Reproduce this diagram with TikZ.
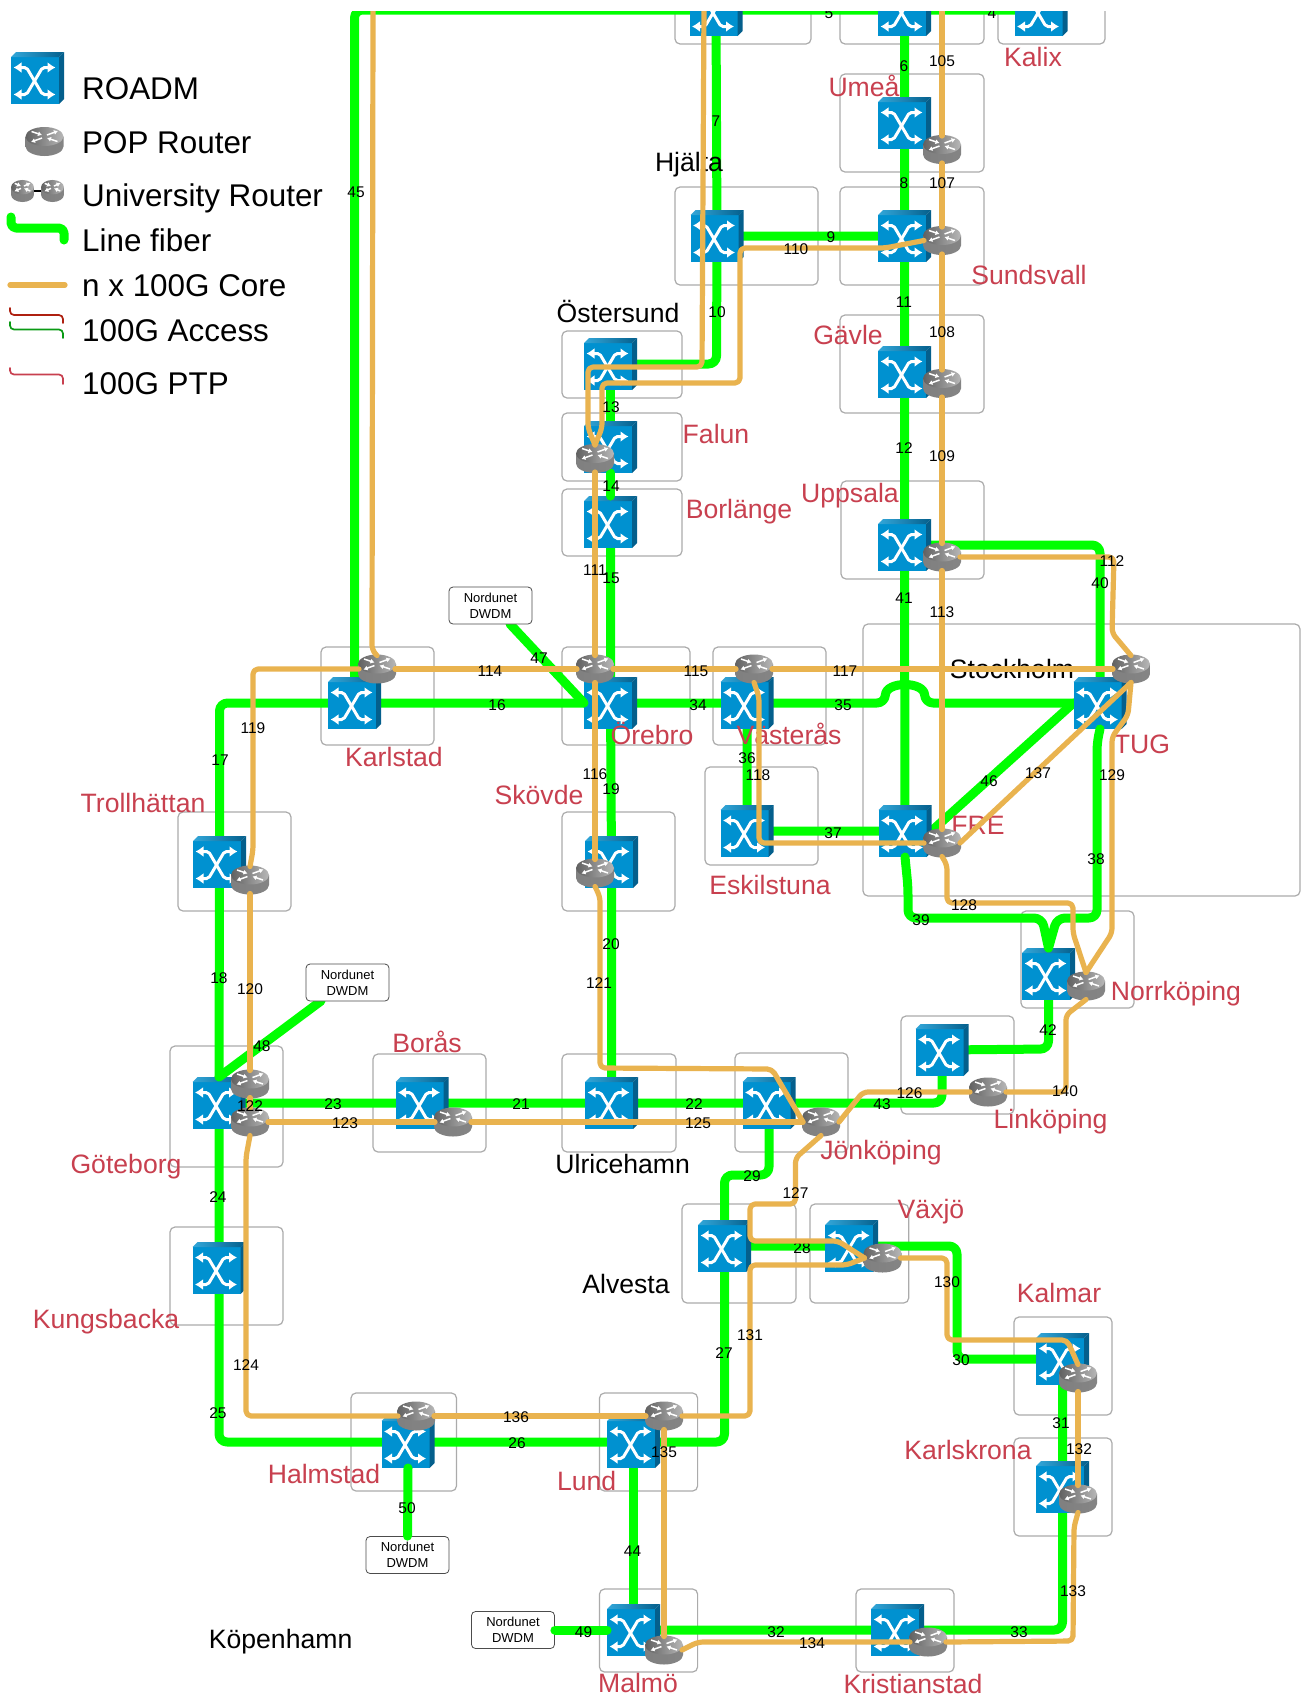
\documentclass[tikz,border=0pt]{standalone}
\usepackage{fontspec}
\setmainfont{Liberation Sans}
\usetikzlibrary{arrows.meta}
\definecolor{cgreen}{HTML}{00FF00}
\definecolor{ccore}{HTML}{E9B34F}
\definecolor{cred}{HTML}{C8404F}
\definecolor{cboxl}{HTML}{ABABAB}
\definecolor{cfront}{HTML}{0091D0}
\definecolor{cside}{HTML}{045F8C}
\definecolor{cacr}{HTML}{AE2010}
\definecolor{cacg}{HTML}{0A9A14}
\tikzset{
  fiber/.style={draw=cgreen,line width=9pt,rounded corners=8pt,line cap=round,line join=round},
  core/.style={draw=ccore,line width=5.2pt,rounded corners=5pt,line cap=round,line join=round},
  cbox/.style={draw=cboxl,line width=1.2pt,rounded corners=5pt},
  roadmbox/.style={minimum width=53pt,minimum height=52pt,inner sep=0pt,outer sep=0pt},
  routerbox/.style={minimum width=36pt,minimum height=27pt,inner sep=0pt,outer sep=0pt},
  ndbox/.style={draw=black!70,fill=white,line width=0.8pt,rounded corners=4pt,minimum width=83pt,minimum height=37pt,inner sep=0pt,align=center,font=\fontsize{13}{16}\selectfont},
  numl/.style={inner sep=0pt,yshift=-0.4pt,font=\fontsize{15.5}{15.5}\selectfont},
  citynode/.style={inner sep=0pt,anchor=base,yshift=-0.5pt,font=\fontsize{26.6}{29}\selectfont},
  redcity/.style={citynode,text=cred},
  legendl/.style={inner sep=0pt,anchor=base west,font=\fontsize{31.4}{33}\selectfont},
  thinl/.style={line width=1.7pt,rounded corners=4pt,line cap=round},
  roadmart/.pic={
    \fill[cfront] (-26.5,-21) rectangle (21.5,26);
    \shade[left color=cfront!80!white,right color=cside] (-26.5,-21) -- (-21.5,-26) -- (26.5,-26) -- (21.5,-21) -- cycle;
    \fill[cside] (21.5,-21) -- (26.5,-26) -- (26.5,21) -- (21.5,26) -- cycle;
    \draw[white,line width=3pt,rounded corners=2pt,{Latex[length=8pt,width=11pt]}-{Latex[length=8pt,width=11pt]}] (-24,-10.5) -- (-11,-10.5) -- (5,16.5) -- (18,16.5);
    \draw[white,line width=3pt,rounded corners=2pt,{Latex[length=8pt,width=11pt]}-{Latex[length=8pt,width=11pt]}] (-24,16.5) -- (-11,16.5) -- (5,-10.5) -- (18,-10.5);
  },
  routerart/.pic={
    \shade[left color=black!50,middle color=black!18,right color=black!48] (-19,-5) -- (-19,5) .. controls (-19,10.2) and (-10.5,14.5) .. (0,14.5) .. controls (10.5,14.5) and (19,10.2) .. (19,5) -- (19,-5) -- cycle;
    \shade[left color=black!62,right color=black!28] (-19,-5) .. controls (-19,-10.2) and (-10.5,-14.5) .. (0,-14.5) .. controls (10.5,-14.5) and (19,-10.2) .. (19,-5) .. controls (19,0.2) and (10.5,4.5) .. (0,4.5) .. controls (-10.5,4.5) and (-19,0.2) .. (-19,-5) -- cycle;
    \begin{scope}[white,line width=1.5pt,-{Latex[length=4pt,width=5pt]}]
      \draw (-13,-10) -- (-2.5,-6.5);
      \draw (13,0) -- (2.5,-3.5);
      \draw (2.5,-6.5) -- (13.5,-10.5);
      \draw (-2.5,-3.5) -- (-13.5,0.5);
    \end{scope}
  },
}
\begin{document}
\begin{tikzpicture}[x=1pt,y=-1pt]
\useasboundingbox[fill=white] (0,0) rectangle (1302,1701);
\begin{scope}
\clip (0,11) rectangle (1302,1701);

% site boxes
\foreach \a/\b/\c/\d in {675/-5/811/44,840/-5/984/44,998/-5/1105/44,840/74/984/172,675/187/818/285,840/187/984/285,840/315/984/413,841/481/984/579,562/331/682/398,562/413/682/481,562/489/682/556,562/647/690/745,713/647/826/745,705/767/818/865,863/624/1300/896,1021/911/1134/1008,321/647/434/745,178/812/291/911,562/812/675/911,170/1046/283/1167,373/1054/486/1152,562/1054/676/1152,735/1053/848/1152,901/1016/1014/1114,682/1204/796/1303,810/1204/908.7/1303,1014/1317/1112/1415,1014/1438/1112/1536,170/1227/283/1325,351/1393/456.5/1491,599.5/1393/697.6/1491,599.5/1589/697.6/1672,856/1589/954/1672}
  {\draw[cbox] (\a,\b) rectangle (\c,\d);}

% node frames
\foreach \n/\x/\y in {rTo1/716/10,rTo2/904.5/10,rKlx/1041/10,rUme/904.5/123,rHja/717/236,rSun/904.5/236,rGav/904.5/372,rUpp/904.5/545,rOst/610.5/364,rFal/610.5/447,rBrl/610.5/522,rOre/610.5/703,rVas/747/703,rEsk/747/831,rFRE/905/831,rTUG/1100/703,rNor/1048.5/974,rKar/354.5/703,rTro/219.5/862,rSko/611.5/862,rGot/219/1103,rBor/422/1103,rUlr/611.5/1103,rJon/769/1103,rLin/942/1050,rAlv/724.5/1246,rVax/851.7/1246,rKal/1062.5/1359,rKsk/1062.5/1487,rKun/219/1268,rHal/408/1442,rLun/633.5/1442,rMal/633.5/1630,rKri/897.5/1630,lgR/37.5/78}
  {\node[roadmbox] (\n) at (\x,\y) {};}
\foreach \n/\x/\y in {pUme/942/149.5,pSun/942/240.5,pGav/942/383.5,pUpp/942/557,pFal/595/458.5,pKar/377/669,pOre/595/669,pVas/754/669,pTUG/1131/669,pFRE/942/843,pTro/250/880,pSko/595/873,pNor/1086/986,pGo1/250/1084,pGo2/250/1122,pBor/453/1122,pJon/821/1122,pLin/988/1092,pVax/882.5/1258,pKal/1078/1378,pKsk/1078/1499,pHal/416/1416,pLun/664/1416,pMal/664/1650,pKri/928/1642,lgP/44.5/141.5}
  {\node[routerbox] (\n) at (\x,\y) {};}
\coordinate (nd1out) at (510,624);
\coordinate (nd2out) at (321,1001);
\coordinate (topA) at (373,5);
\coordinate (topB) at (704,5);
\coordinate (topC) at (942,5);

% line fiber under the ROADMs
\draw[fiber] (rKar.center) -- (354.5,10) -- (rTo1.center) -- (rTo2.center) -- (rKlx.center);
\draw[fiber] (rTo2.center) -- (rUme.center) -- (rSun.center) -- (rGav.center) -- (rUpp.center) -- (rFRE.center);
\draw[fiber] (rTo1.center) -- (rHja.center) -- (rSun.center);
\draw[fiber] (rHja.center) -- (716.5,364) -- (rOst.center);
\draw[fiber] (rOst.center) -- (rFal.center);
\draw[fiber] (rBrl.center) -- (rOre.center) -- (rSko.center) -- (rUlr.center);
\draw[fiber] (rTro.center) -- (219.5,703) -- (rOre.center);
\draw[fiber] (rTro.center) -- (rGot.center) -- (rKun.center) -- (219,1442) -- (rLun.center) -- (724.5,1442) -- (rAlv.center);
\draw[fiber] (rGot.center) -- (rUlr.center) -- (rJon.center) -- (942,1103) -- (rLin.center);
\draw[fiber] (rLin.center) -- (1048.5,1049) -- (rNor.center);
\draw[fiber] (rAlv.center) -- (724.5,1175) -- (769,1175) -- (rJon.center);
\draw[fiber] (rAlv.center) -- (rVax.center) -- (957,1246) -- (957,1359) -- (rKal.center) -- (rKsk.center) -- (1062.5,1630) -- (rMal.center);
\draw[fiber] (rLun.center) -- (rMal.center);
\draw[fiber] (rOre.center) -- (rVas.center) -- (885,703) .. controls (886,681) and (924,681) .. (925,703) -- (rTUG.center);
\draw[fiber] (rVas.center) -- (rEsk.center) -- (rFRE.center);
\draw[fiber] (rFRE.east) -- (rTUG.west);
\draw[fiber] (rUpp.center) -- (1100,545) -- (rTUG.center);

% ROADM icons
\foreach \n in {rTo1,rTo2,rKlx,rUme,rHja,rSun,rGav,rUpp,rOst,rFal,rBrl,rOre,rVas,rEsk,rFRE,rTUG,rNor,rKar,rTro,rSko,rGot,rBor,rUlr,rJon,rLin,rAlv,rVax,rKal,rKsk,rKun,rHal,rLun,rMal,rKri,lgR}
  {\pic at (\n) {roadmart};}

% line fiber over the ROADMs
\draw[fiber] (nd1out) -- (rOre.west);
\draw[fiber] (nd2out) -- (rGot.north);
\draw[fiber] (rFal.south) -- (rBrl.north);
\draw[fiber] (rFRE.south) -- (908,887) -- (908,918) -- (1042,918) -- (rNor.north);
\draw[fiber] (rTUG.south) -- (1097,743) -- (1097,918) -- (1057,918) -- (rNor.north);
\node[ndbox] (nd1) at (490.5,605.5) {Nordunet\\DWDM};
\node[ndbox] (nd2) at (347.5,982.5) {Nordunet\\DWDM};
\node[ndbox] (nd3) at (407.5,1555) {Nordunet\\DWDM};
\node[ndbox] (nd4) at (513,1630) {Nordunet\\DWDM};
\draw[fiber] (nd3.north) -- (rHal.south);
\draw[fiber] (nd4.east) -- (rMal.west);

% site names
\foreach \i/\t/\x/\y in {Klx/Kalix/1033/65.7,Ume/Umeå/864/95.7,Sun/Sundsvall/1029/284,Gav/Gävle/848/344,Fal/Falun/716/442.7,Brl/Borlänge/739/517.7,Upp/Uppsala/850/501.7,Kar/Karlstad/394/766,Ore/Örebro/652/744,Vas/Västerås/789/744,Tro/Trollhättan/143/811.7,Sko/Skövde/539/804,Esk/Eskilstuna/770/894,FRE/FRE/978/834,TUG/TUG/1142/753,Nor/Norrköping/1176/1000,Bor/Borås/427/1052,Got/Göteborg/126/1173,Jon/Jönköping/881/1159,Lin/Linköping/1050.5/1128,Vax/Växjö/931/1218,Kal/Kalmar/1059/1301.7,Ksk/Karlskrona/968/1459,Kun/Kungsbacka/106/1327.7,Hal/Halmstad/324/1482.7,Lun/Lund/586.7/1490,Mal/Malmö/638/1692,Kri/Kristianstad/913/1693}
  {\node[redcity] (t\i) at (\x,\y) {\t};}
\foreach \i/\t/\x/\y in {Hja/Hjälta/689/170.7,Ost/Östersund/618/321.7,Sto/Stockholm/1012/678,Ulr/Ulricehamn/622.7/1172.7,Alv/Alvesta/626/1293,Kop/Köpenhamn/280.6/1647.7}
  {\node[citynode] (t\i) at (\x,\y) {\t};}

% POP routers
\foreach \n in {pUme,pSun,pGav,pUpp,pFal,pKar,pOre,pVas,pTUG,pFRE,pTro,pSko,pNor,pGo1,pGo2,pBor,pJon,pLin,pVax,pKal,pKsk,pHal,pLun,pMal,pKri,lgP}
  {\pic at (\n) {routerart};}

% label that the core line runs over
\node[numl] (n28) at (802,1248) {28};

% n x 100G core
\draw[core] (topA) -- (372,650) -- (pKar.north);
\draw[core] (topC) -- (pUme.north);
\draw[core] (pUme.south) -- (pSun.north);
\draw[core] (pSun.south) -- (pGav.north);
\draw[core] (pGav.south) -- (pUpp.north);
\draw[core] (pUpp.south) -- (pFRE.north);
\draw[core] (topB) -- (702,367) -- (588,367) -- (588,428) -- (pFal.north);
\draw[core] (pSun.west) -- (885,248) -- (740,248) -- (740,383) -- (602,383) -- (602,428) -- (pFal.north);
\draw[core] (pFal.south) -- (pOre.north);
\draw[core] (pOre.south) -- (pSko.north);
\draw[core] (pKar.east) -- (pOre.west);
\draw[core] (pOre.east) -- (pVas.west);
\draw[core] (pVas.east) -- (pTUG.west);
\draw[core] (pKar.west) -- (253,669) -- (253,850) -- (pTro.north);
\draw[core] (pTro.south) -- (pGo1.north);
\draw[core] (pGo1.south) -- (pGo2.north);
\draw[core] (pVas.south) -- (759,697) -- (759,843) -- (pFRE.west);
\draw[core] (pSko.south) -- (600,897) -- (600,1068) -- (772,1069) -- (pJon.west);
\draw[core] (pGo2.east) -- (pBor.west);
\draw[core] (pBor.east) -- (pJon.west);
\draw[core] (pGo2.south) -- (246,1157) -- (246,1416) -- (pHal.west);
\draw[core] (pJon.east) -- (863,1092) -- (pLin.west);
\draw[core] (pLin.east) -- (1066,1092) -- (1066,1015) -- (pNor.south);
\draw[core] (pJon.south) -- (795.5,1158) -- (795.5,1204) -- (750,1204) -- (750,1241) -- (838,1241) -- (pVax.west);
\draw[core] (pLun.east) -- (750,1416) -- (750,1265) -- (846.7,1265) -- (pVax.west);
\draw[core] (pVax.east) -- (947,1258) -- (947,1340) -- (1067,1340) -- (pKal.north);
\draw[core] (pKal.south) -- (pKsk.north);
\draw[core] (pKsk.south) -- (1074,1527) -- (1073,1641) -- (pKri.east);
\draw[core] (pKri.west) -- (698,1642) -- (pMal.east);
\draw[core] (pLun.south) -- (pMal.north);
\draw[core] (pHal.east) -- (pLun.west);
\draw[core] (pFRE.east) -- (pTUG.south);
\draw[core] (pTUG.south) -- (1128,715) -- (1112,737) -- (1112,933) -- (pNor.north);
\draw[core] (pFRE.south) -- (947,865) -- (947,903) -- (1073,903) -- (1073,933) -- (pNor.north);
\draw[core] (pUpp.east) -- (1114,557) -- (1112,633) -- (pTUG.north);

% link numbers
\foreach \t/\x/\y in {45/356/192,5/829/13,4/992/13,6/904/66,105/942/61,7/716/121,107/942/183,8/904/183,9/831/237,110/796/249,11/904/302,10/717/312,108/942/332,12/904/448,109/942/456,13/611/407,14/611/486,111/595/570,15/611/578,47/539/658,114/490/671,115/696/671,117/845/671,41/904/598,113/942/612,40/1100/583,112/1112/561,16/497/705,119/253/728,17/220/760,116/595/774,19/611/789,20/611/944,121/599/983,18/219/978,120/250/989,34/698/705,35/843/705,36/747/758,118/758/775,37/833/833,39/921/920,46/989/781,137/1038/773,129/1112/775,38/1096/859,128/964/905,48/262/1046,122/250/1106,23/333/1104,123/345/1123,21/521/1104,24/218/1197,22/694/1104,125/698/1123,43/882/1104,126/909.5/1093,42/1048/1030,140/1065/1091,29/752/1176,127/795.5/1193,130/947/1282,131/750/1335,27/724/1353,30/961/1360,31/1061/1423,132/1079/1449,25/218/1413,124/246/1365,136/516/1417,26/517/1443,135/664/1452,50/407/1508,44/632.5/1551,49/583.6/1632,32/776/1632,134/812/1643,33/1019/1632,133/1073/1591}
  {\node[numl] (n\t) at (\x,\y) {\t};}

% legend
\node[legendl] (lg1) at (82,99) {ROADM};
\node[legendl] (lg2) at (82,153.7) {POP Router};
\node[legendl] (lg3) at (82,206) {University Router};
\node[legendl] (lg4) at (82,251.7) {Line fiber};
\node[legendl] (lg5) at (82,296.7) {n x 100G Core};
\node[legendl] (lg6) at (82,341.7) {100G Access};
\node[legendl] (lg7) at (82,394.3) {100G PTP};
\node[inner sep=0pt,minimum width=23pt,minimum height=22pt] (lgU1) at (22.5,191) {};
\node[inner sep=0pt,minimum width=23pt,minimum height=22pt] (lgU2) at (52.5,191) {};
\draw[black,line width=1.5pt] (lgU1.center) -- (lgU2.center);
\pic[xscale=0.6,yscale=0.76] at (lgU1) {routerart};
\pic[xscale=0.6,yscale=0.76] at (lgU2) {routerart};
\coordinate (lf1) at (11,217); \coordinate (lf2) at (64,240);
\draw[fiber,rounded corners=5pt] (lf1) -- (11,228) -- (64,228) -- (lf2);
\coordinate (lc1) at (10,285); \coordinate (lc2) at (65,285);
\draw[core] (lc1) -- (lc2);
\coordinate (la1) at (10,308); \coordinate (la2) at (63,323);
\draw[thinl,draw=cacr] (la1) -- (10,315) -- (63,315) -- (la2);
\coordinate (lb1) at (10,322); \coordinate (lb2) at (63,338);
\draw[thinl,draw=cacg] (lb1) -- (10,329.5) -- (63,329.5) -- (lb2);
\coordinate (lp1) at (10,368); \coordinate (lp2) at (63,384);
\draw[thinl,draw=cred] (lp1) -- (10,374.5) -- (63,374.5) -- (lp2);
\end{scope}
\end{tikzpicture}
\end{document}
